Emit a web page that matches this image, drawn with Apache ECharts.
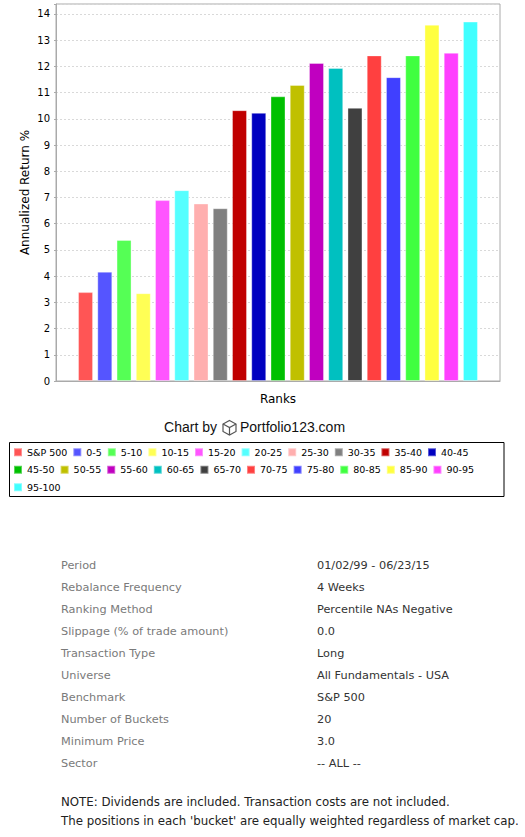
<!DOCTYPE html>
<html>
<head>
<meta charset="utf-8">
<script src="https://cdn.jsdelivr.net/npm/echarts@6/dist/echarts.min.js"></script>
<style>
html,body{margin:0;padding:0;background:#fff;}
#chart{width:525px;height:837px;}
</style>
</head>
<body>
<div id="chart"></div>
<script>
var categories = ['Ranks'];
var bucketNames = ['S&P 500','0-5','5-10','10-15','15-20','20-25','25-30','30-35','35-40','40-45',
  '45-50','50-55','55-60','60-65','65-70','70-75','75-80','80-85','85-90','90-95','95-100'];
var annualizedReturns = [3.39, 4.17, 5.38, 3.35, 6.90, 7.28, 6.77, 6.59, 10.33, 10.23,
  10.86, 11.29, 12.13, 11.94, 10.42, 12.42, 11.59, 12.42, 13.59, 12.52, 13.71];
var bucketColors = ['#FF5555','#5555FF','#55FF55','#FFFF55','#FF55FF','#55FFFF','#FFAFAF','#808080','#C00000','#0000C0',
  '#00C000','#C0C000','#C000C0','#00C0C0','#404040','#FF4040','#4040FF','#40FF40','#FFFF40','#FF40FF','#40FFFF'];
var settingLabels = ['Period','Rebalance Frequency','Ranking Method','Slippage (% of trade amount)','Transaction Type',
  'Universe','Benchmark','Number of Buckets','Minimum Price','Sector'];
var settingValues = ['01/02/99 - 06/23/15','4 Weeks','Percentile NAs Negative','0.0','Long',
  'All Fundamentals - USA','S&P 500','20','3.0','-- ALL --'];
var noteLines = ['NOTE: Dividends are included. Transaction costs are not included.',
  "The positions in each 'bucket' are equally weighted regardless of market cap."];

var chart = echarts.init(document.getElementById('chart'), null, {renderer: 'svg'});

var series = bucketNames.map(function (name, i) {
  return {
    name: name,
    type: 'bar',
    data: [annualizedReturns[i]],
    barWidth: 15,
    barGap: '28.3%',
    itemStyle: {color: bucketColors[i], borderColor: 'rgba(255,255,255,0.35)', borderWidth: 1},
    emphasis: {disabled: true},
    animation: false
  };
});

var graphics = [];
// legend frame
graphics.push({type: 'rect', shape: {x: 9.5, y: 442.5, width: 494.5, height: 54},
  style: {fill: 'none', stroke: '#000', lineWidth: 1}, silent: true});
// "Chart by" credit
graphics.push({type: 'text', x: 217, y: 427, style: {text: 'Chart by', font: '14px "Liberation Sans", Arial, sans-serif',
  fill: '#111', textAlign: 'right', textVerticalAlign: 'middle'}});
graphics.push({type: 'text', x: 240, y: 427, style: {text: 'Portfolio123.com', font: '14px "Liberation Sans", Arial, sans-serif',
  fill: '#111', textAlign: 'left', textVerticalAlign: 'middle'}});
// cube icon
graphics.push({type: 'polygon', shape: {points: [[229.5,420.5],[236,424],[236,431.5],[229.5,435],[223,431.5],[223,424]]},
  style: {fill: '#fff', stroke: '#555', lineWidth: 1.2}});
graphics.push({type: 'polyline', shape: {points: [[223,424],[229.5,427.5],[236,424]]},
  style: {fill: 'none', stroke: '#555', lineWidth: 1.2}});
graphics.push({type: 'line', shape: {x1: 229.5, y1: 427.5, x2: 229.5, y2: 435},
  style: {stroke: '#555', lineWidth: 1.2}});
// settings table
settingLabels.forEach(function (lab, i) {
  var y = 565 + i * 22;
  graphics.push({type: 'text', x: 61, y: y, style: {text: lab, font: '11.3px "DejaVu Sans", sans-serif',
    fill: '#7a7a7a', textVerticalAlign: 'middle'}});
  graphics.push({type: 'text', x: 317, y: y, style: {text: settingValues[i], font: '11.3px "DejaVu Sans", sans-serif',
    fill: '#333', textVerticalAlign: 'middle'}});
});
noteLines.forEach(function (t, i) {
  graphics.push({type: 'text', x: 61, y: 802 + i * 19, style: {text: t, font: '11.8px "DejaVu Sans", sans-serif',
    fill: '#222', textVerticalAlign: 'middle'}});
});

chart.setOption({
  animation: false,
  backgroundColor: '#fff',
  textStyle: {fontFamily: '"DejaVu Sans", sans-serif'},
  grid: {left: 56, top: 4, width: 444, height: 377, show: true, borderColor: '#aaa', borderWidth: 1, backgroundColor: '#fff', containLabel: false},
  legend: {
    data: bucketNames,
    left: 13, top: 446, width: 470, padding: 0,
    icon: 'rect', itemWidth: 8, itemHeight: 8, itemGap: 5,
    selectedMode: false,
    textStyle: {fontSize: 9.5, color: '#000', lineHeight: 12.5, fontFamily: '"DejaVu Sans", sans-serif'}
  },
  xAxis: {
    type: 'category',
    data: categories,
    axisLine: {lineStyle: {color: '#aaa'}},
    axisTick: {alignWithLabel: true, length: 2, lineStyle: {color: '#aaa'}},
    axisLabel: {fontSize: 12, color: '#000', margin: 12},
    splitLine: {show: false}
  },
  yAxis: {
    type: 'value',
    min: 0, max: 14.38, interval: 1,
    name: 'Annualized Return %',
    nameLocation: 'middle',
    nameGap: 25,
    nameMoveOverlap: false,
    nameTextStyle: {fontSize: 12, color: '#000'},
    axisLine: {show: true, lineStyle: {color: '#aaa'}},
    axisTick: {show: true, length: 2, lineStyle: {color: '#aaa'}},
    axisLabel: {fontSize: 10, color: '#000', margin: 6,
      formatter: function (v) { return Math.abs(v - Math.round(v)) < 1e-6 ? String(Math.round(v)) : ''; }},
    splitLine: {show: true, lineStyle: {color: '#d9d9d9', type: [2, 2]}}
  },
  series: series,
  graphic: graphics
});
</script>
</body>
</html>
